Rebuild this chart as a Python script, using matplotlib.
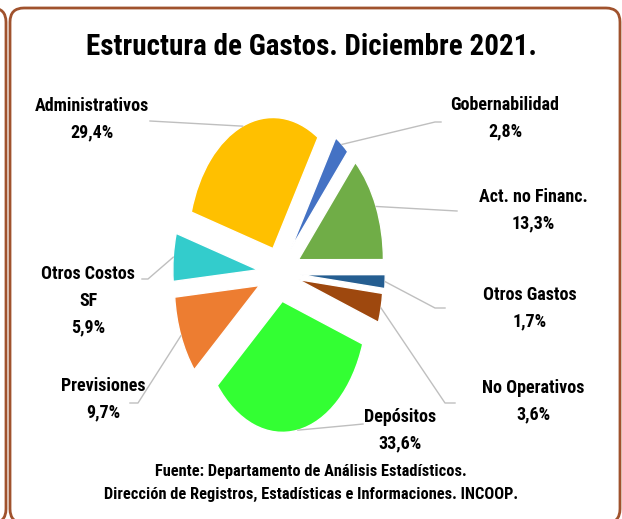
import matplotlib
matplotlib.use("Agg")
import matplotlib.pyplot as plt
import numpy as np
from matplotlib.patches import FancyBboxPatch
from matplotlib.transforms import IdentityTransform

plt.rcParams['font.family'] = ['Roboto Condensed', 'Liberation Sans', 'DejaVu Sans']

# data
labels = ['Gobernabilidad', 'Act. no Financ.', 'Otros Gastos', 'No Operativos',
          'Depósitos', 'Previsiones', 'Otros Costos\nSF', 'Administrativos']
values = [2.8, 13.3, 1.7, 3.6, 33.6, 9.7, 5.9, 29.4]
colors = ['#4472C4', '#70AD47', '#255E91', '#9E480E',
          '#33FF33', '#ED7D31', '#33CCCC', '#FFC000']
explode = [0.23, 0.25, 0.25, 0.23, 0.22, 0.25, 0.25, 0.2]

W, H = 622, 519
fig = plt.figure(figsize=(W / 100, H / 100), dpi=100)

# pie centre and radii in pixels (from top-left) - chart is squeezed sideways
cx, cy = 279, 273
rx, ry = 85, 131

ax = fig.add_axes([0, 0, 1, 1])
wedges, _ = ax.pie(values, colors=colors, explode=explode, startangle=58,
                   counterclock=False, wedgeprops=dict(linewidth=1, edgecolor='white'))
ax.set_aspect('auto')
ax.set_xlim(-cx / rx, (W - cx) / rx)
ax.set_ylim(-(H - cy) / ry, cy / ry)
ax.axis('off')


def fx(x):
    return x / W


def fy(y):
    return 1 - y / H


def to_px(pt):
    # data -> pixels from top-left
    return cx + pt[0] * rx, cy - pt[1] * ry


# label layout: (text x, text y), leader path (pixels from top)
label_pos = [(505, 118), (533, 210), (530, 308), (533, 401),
             (400, 430), (103, 399), (88, 301), (92, 119)]
leader_path = [[(435, 122), (441, 122)],
               [(457, 211)],
               [(435, 308), (445, 308)],
               [(445, 403), (455, 403)],
               [(353, 425), (363, 424)],
               [(138, 403), (130, 403)],
               [(148, 279), (142, 279)],
               [(150, 121)]]

for w, lab, v, pos, path in zip(wedges, labels, values, label_pos, leader_path):
    mid = np.deg2rad((w.theta1 + w.theta2) / 2)
    edge = (w.center[0] + w.r * np.cos(mid), w.center[1] + w.r * np.sin(mid))
    pts = [to_px(edge)] + path
    xs = [fx(p[0]) for p in pts]
    ys = [fy(p[1]) for p in pts]
    fig.add_artist(plt.Line2D(xs, ys, color='#BFBFBF', lw=1))
    txt = lab + '\n' + f"{v:.1f}".replace('.', ',') + '%'
    fig.text(fx(pos[0]), fy(pos[1]), txt, ha='center', va='center',
             fontsize=13, fontweight='bold', linespacing=1.62)

fig.text(fx(311), fy(47), 'Estructura de Gastos. Diciembre 2021.', ha='center',
         va='center', fontsize=21, fontweight='bold')
fig.text(fx(311), fy(483), 'Fuente: Departamento de Análisis Estadísticos.\n'
         'Dirección de Registros, Estadísticas e Informaciones. INCOOP.',
         ha='center', va='center', fontsize=11.8, fontweight='bold', linespacing=1.7)

# frames
frame_col = '#A0522D'
fig.add_artist(FancyBboxPatch((10, -4), 610, H - 8 + 4,
                              boxstyle='round,pad=0,rounding_size=14',
                              fill=False, ec=frame_col, lw=2,
                              transform=IdentityTransform()))
fig.add_artist(FancyBboxPatch((-300, -4), 306, H - 8 + 4,
                              boxstyle='round,pad=0,rounding_size=14',
                              fill=False, ec=frame_col, lw=2,
                              transform=IdentityTransform()))

fig.savefig('out.png', dpi=100)
